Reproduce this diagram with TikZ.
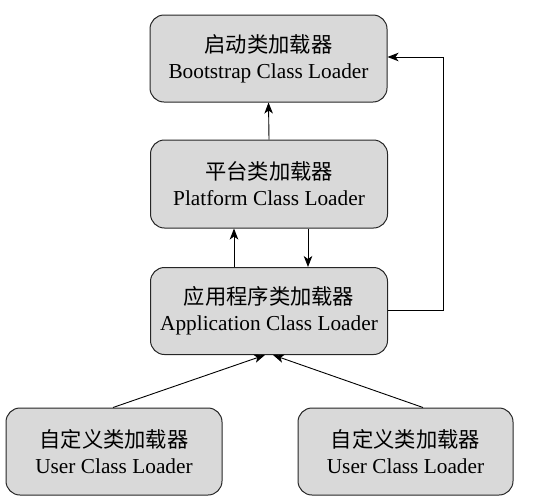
\documentclass[tikz,border=0pt]{standalone}
\usepackage{fontspec}
\setmainfont{Liberation Serif}
\newfontfamily\cjk{Noto Sans CJK SC}
\usetikzlibrary{arrows.meta}
\begin{document}
\begin{tikzpicture}[x=1pt,y=-1pt,
  loader/.style={draw=black!85,line width=1pt,fill=black!15,rounded corners=14pt,
    minimum width=#1,align=center,inner sep=0pt,
    font=\fontsize{21.3}{26}\selectfont},
  loader/.default=237pt,
  arr/.style={line width=0.9pt,-{Stealth[length=11pt,width=8.5pt,inset=3pt]}}]
\useasboundingbox (0,0) rectangle (543,501);
\node[loader,minimum height=87pt] (boot) at (268.5,58.5) {{\cjk 启动类加载器}\\Bootstrap Class Loader};
\node[loader,minimum height=88pt] (plat) at (269,184) {{\cjk 平台类加载器}\\Platform Class Loader};
\node[loader,minimum height=87pt] (app) at (269,311) {{\cjk 应用程序类加载器}\\Application Class Loader};
\node[loader=216pt,minimum height=87pt] (u1) at (114,451.5) {{\cjk 自定义类加载器}\\User Class Loader};
\node[loader=215pt,minimum height=87pt] (u2) at (405.5,451.5) {{\cjk 自定义类加载器}\\User Class Loader};
\draw[arr] (plat.north) -- (boot.south);
\draw[arr] (app.north -| 234,0) -- (plat.south -| 234,0);
\draw[arr] (plat.south -| 308,0) -- (app.north -| 308,0);
\coordinate (c1) at (443,310);
\coordinate (c2) at (443,57);
\draw[arr] (app.east |- c1) -- (c1) -- (c2) -- (boot.east |- c2);
\draw[arr] (u1.north -| 113,0) -- (app.south -| 265,0);
\draw[arr] (u2.north -| 423,0) -- (app.south -| 273,0);
\end{tikzpicture}
\end{document}
